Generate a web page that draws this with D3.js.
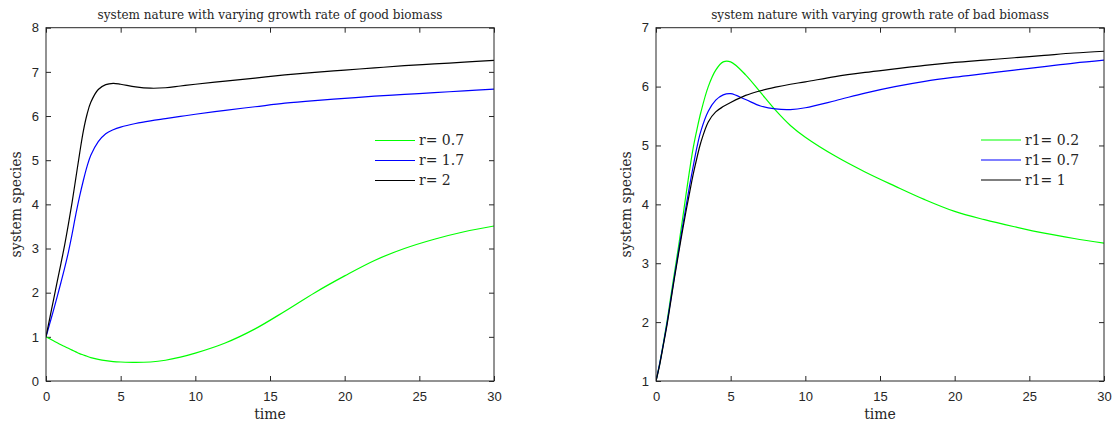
<!DOCTYPE html>
<html>
<head>
<meta charset="utf-8">
<script src="https://cdn.jsdelivr.net/npm/d3@7/dist/d3.min.js"></script>
<style>
  html, body { margin: 0; padding: 0; background: #ffffff; }
  svg { display: block; }
  .tick text { font-family: "Liberation Sans", Arial, sans-serif; font-size: 13px; fill: #262626; }
  .tick line { stroke: #262626; }
  .serif { font-family: "DejaVu Serif", "Liberation Serif", serif; fill: #262626; }
</style>
</head>
<body>
<svg id="chart" width="1116" height="425"></svg>
<script>
// Simulation time samples shared by the curves of each panel
const timeGood = [0, 0.25, 0.5, 0.75, 1, 1.25, 1.5, 1.75, 2, 2.25, 2.5, 2.75, 3, 3.5, 4, 4.5, 5, 6, 7, 8, 9, 10, 12, 14, 16, 18, 20, 22, 24, 26, 28, 30];
const timeBad  = [0, 0.25, 0.5, 0.75, 1, 1.25, 1.5, 1.75, 2, 2.25, 2.5, 2.75, 3, 3.5, 4, 4.5, 5, 6, 7, 8, 9, 10, 12, 14, 16, 18, 20, 22, 24, 26, 28, 30];

// Growth rate of good biomass
const goodLabels = ["r= 0.7", "r= 1.7", "r= 2"];
const goodR07 = [1, 0.955, 0.91, 0.865, 0.82, 0.78, 0.74, 0.70, 0.66, 0.62, 0.59, 0.56, 0.53, 0.49, 0.46, 0.44, 0.43, 0.42, 0.43, 0.47, 0.54, 0.63, 0.86, 1.18, 1.58, 2.0, 2.38, 2.73, 3.0, 3.21, 3.38, 3.51];
const goodR17 = [1, 1.3, 1.6, 1.91, 2.23, 2.56, 2.92, 3.33, 3.78, 4.18, 4.54, 4.86, 5.11, 5.42, 5.6, 5.69, 5.75, 5.83, 5.89, 5.94, 5.99, 6.04, 6.13, 6.21, 6.29, 6.35, 6.40, 6.45, 6.49, 6.53, 6.57, 6.61];
const goodR2  = [1, 1.42, 1.83, 2.25, 2.66, 3.08, 3.55, 4.05, 4.6, 5.15, 5.66, 6.04, 6.31, 6.6, 6.71, 6.74, 6.72, 6.66, 6.63, 6.64, 6.68, 6.72, 6.79, 6.86, 6.93, 6.99, 7.04, 7.09, 7.14, 7.18, 7.22, 7.26];

// Growth rate of bad biomass
const badLabels = ["r1= 0.2", "r1= 0.7", "r1= 1"];
const badR02 = [1, 1.3, 1.65, 2.03, 2.45, 2.86, 3.27, 3.7, 4.15, 4.58, 4.97, 5.28, 5.56, 6.0, 6.28, 6.42, 6.42, 6.2, 5.9, 5.6, 5.34, 5.14, 4.82, 4.55, 4.31, 4.08, 3.88, 3.74, 3.62, 3.51, 3.42, 3.34];
const badR07 = [1, 1.3, 1.64, 2.0, 2.4, 2.8, 3.19, 3.58, 3.95, 4.32, 4.66, 4.98, 5.24, 5.58, 5.77, 5.86, 5.88, 5.78, 5.67, 5.62, 5.61, 5.64, 5.76, 5.89, 6.0, 6.09, 6.16, 6.22, 6.28, 6.34, 6.4, 6.45];
const badR1  = [1, 1.28, 1.62, 1.97, 2.37, 2.77, 3.15, 3.52, 3.87, 4.2, 4.52, 4.8, 5.05, 5.4, 5.57, 5.66, 5.73, 5.85, 5.93, 5.99, 6.04, 6.08, 6.17, 6.24, 6.3, 6.36, 6.41, 6.45, 6.49, 6.53, 6.57, 6.60];

// Axis tick values
const timeTicks = [0, 5, 10, 15, 20, 25, 30];
const goodTicks = [0, 1, 2, 3, 4, 5, 6, 7, 8];
const badTicks  = [1, 2, 3, 4, 5, 6, 7];

const lineColors = ["#00ff00", "#0000ff", "#000000"];

const svg = d3.select("#chart");

function panel(opt) {
  const { left, right, top, bottom } = opt.box;
  const x = d3.scaleLinear().domain([0, 30]).range([left, right]);
  const y = d3.scaleLinear().domain(opt.yDomain).range([bottom, top]);
  const g = svg.append("g");
  const tick = 5;

  const clipId = "clip-" + opt.id;
  svg.append("clipPath").attr("id", clipId)
    .append("rect").attr("x", left).attr("y", top)
    .attr("width", right - left).attr("height", bottom - top);

  // Axes with inward ticks on all four sides
  const ax = (gen, tx, ty, labels) => {
    const a = g.append("g").attr("transform", `translate(${tx},${ty})`).call(gen);
    a.select(".domain").remove();
    if (!labels) a.selectAll("text").remove();
    return a;
  };
  ax(d3.axisBottom(x).tickValues(timeTicks).tickSizeInner(-tick).tickSizeOuter(0).tickPadding(11).tickFormat(d3.format("d")), 0, bottom, true);
  ax(d3.axisTop(x).tickValues(timeTicks).tickSizeInner(-tick).tickSizeOuter(0), 0, top, false);
  ax(d3.axisLeft(y).tickValues(opt.yTicks).tickSizeInner(-tick).tickSizeOuter(0).tickPadding(7).tickFormat(d3.format("d")), left, 0, true);
  ax(d3.axisRight(y).tickValues(opt.yTicks).tickSizeInner(-tick).tickSizeOuter(0), right, 0, false);

  // Data curves
  const line = d3.line().x(d => x(d[0])).y(d => y(d[1])).curve(d3.curveCatmullRom.alpha(0.5));
  const lines = g.append("g").attr("clip-path", `url(#${clipId})`);
  opt.series.forEach((vals, i) => {
    lines.append("path")
      .datum(opt.time.map((t, k) => [t, vals[k]]))
      .attr("fill", "none")
      .attr("stroke", lineColors[i])
      .attr("stroke-width", 1.2)
      .attr("d", line);
  });

  // Axes box
  g.append("rect")
    .attr("x", left).attr("y", top)
    .attr("width", right - left).attr("height", bottom - top)
    .attr("fill", "none").attr("stroke", "#262626").attr("stroke-width", 1);

  // Title and axis labels
  g.append("text").attr("class", "serif")
    .attr("x", (left + right) / 2).attr("y", 19)
    .attr("text-anchor", "middle").attr("font-size", 12)
    .text(opt.title);
  g.append("text").attr("class", "serif")
    .attr("x", (left + right) / 2).attr("y", 419)
    .attr("text-anchor", "middle").attr("font-size", 14)
    .text("time");
  g.append("text").attr("class", "serif")
    .attr("transform", `translate(${left - 25},${(top + bottom) / 2}) rotate(-90)`)
    .attr("text-anchor", "middle").attr("font-size", 14)
    .text("system species");

  // Legend
  const lg = g.append("g").attr("transform", `translate(${opt.legend[0]},${opt.legend[1]})`);
  opt.labels.forEach((lab, i) => {
    const row = lg.append("g").attr("transform", `translate(0,${i * 20})`);
    row.append("line").attr("x1", 0).attr("x2", 40).attr("y1", 0).attr("y2", 0)
      .attr("stroke", lineColors[i]).attr("stroke-width", 1.2);
    row.append("text").attr("class", "serif")
      .attr("x", 44).attr("y", 0).attr("dy", "0.35em")
      .attr("font-size", 14).text(lab);
  });
}

panel({
  id: "good",
  box: { left: 46, right: 494, top: 27.7, bottom: 381 },
  yDomain: [0, 8], yTicks: goodTicks,
  time: timeGood, series: [goodR07, goodR17, goodR2], labels: goodLabels,
  title: "system nature with varying growth rate of good biomass",
  legend: [375, 140.5]
});

panel({
  id: "bad",
  box: { left: 656, right: 1104, top: 27.7, bottom: 381 },
  yDomain: [1, 7], yTicks: badTicks,
  time: timeBad, series: [badR02, badR07, badR1], labels: badLabels,
  title: "system nature with varying growth rate of bad biomass",
  legend: [981, 140]
});
</script>
</body>
</html>
